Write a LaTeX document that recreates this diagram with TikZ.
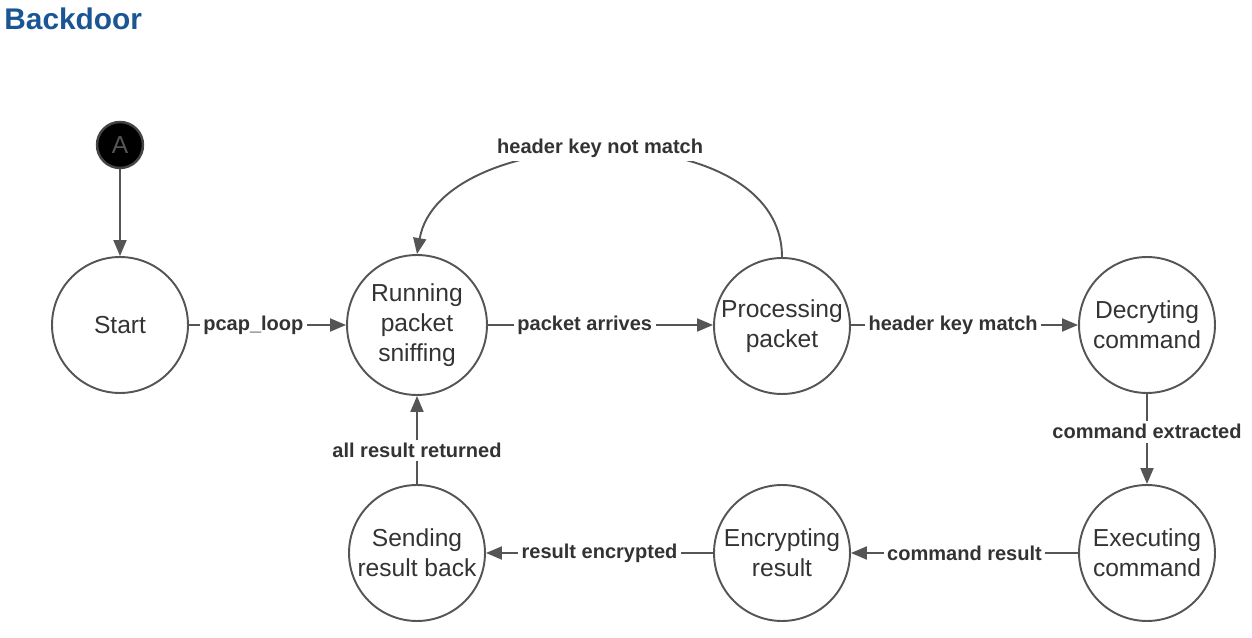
\documentclass[tikz,border=0pt]{standalone}
\usepackage{fontspec}
\setmainfont{Liberation Sans}
\usetikzlibrary{arrows.meta}
\definecolor{linegray}{RGB}{85,85,85}
\definecolor{textgray}{RGB}{51,51,51}
\definecolor{titleblue}{RGB}{27,86,148}
\tikzset{
  state/.style={circle, draw=linegray, line width=1.1pt, minimum size=2.72cm, inner sep=0pt,
    align=center, text=textgray, font=\fontsize{14}{17}\selectfont},
  trans/.style={draw=linegray, line width=1.1pt, -{Triangle[length=0.32cm,width=0.26cm]}},
  lbl/.style={fill=white, inner sep=2pt, text=textgray, font=\bfseries\fontsize{11.4}{13}\selectfont},
}
\begin{document}
\begin{tikzpicture}[x=0.02cm, y=-0.02cm]
    \useasboundingbox (0,0) rectangle (1252,638);

    \node[anchor=base west, inner sep=0pt, text=titleblue, font=\bfseries\fontsize{17}{20}\selectfont] (title) at (4,30) {Backdoor};

    \node[circle, fill=black, draw=linegray!80!black, line width=1.4pt, minimum size=0.92cm, inner sep=0pt,
      text=linegray, font=\fontsize{14}{16}\selectfont] (init) at (120,145) {A};

    \node[state] (start) at (120,325) {Start};
    \node[state, minimum size=2.8cm] (sniff) at (417,325) {Running\\packet\\sniffing};
    \node[state] (proc) at (782,326) {Processing\\packet};
    \node[state] (decr) at (1147,325) {Decryting\\command};
    \node[state] (exec) at (1147,553) {Executing\\command};
    \node[state] (encr) at (782,553) {Encrypting\\result};
    \node[state] (send) at (417,553) {Sending\\result back};

    \draw[trans] (init) -- (start);
    \draw[trans] (start) -- node[lbl, pos=0.41] {pcap\_loop} (sniff);
    \draw[trans] (sniff.east) -- node[lbl, pos=0.43] {packet arrives} (proc.west |- sniff.east);
    \draw[trans] (proc.north) .. controls (782,112) and (440,122) .. node[lbl, pos=0.5, xshift=-0.16cm, yshift=0.06cm] {header key not match} (sniff.north);
    \draw[trans] (proc.east |- decr.west) -- node[lbl, pos=0.45] {header key match} (decr.west);
    \draw[trans] (decr) -- node[lbl, pos=0.42] {command extracted} (exec);
    \draw[trans] (exec) -- node[lbl, pos=0.5] {command result} (encr);
    \draw[trans] (encr) -- node[lbl, pos=0.5] {result encrypted} (send);
    \draw[trans] (send) -- node[lbl, pos=0.38] {all result returned} (sniff);

\end{tikzpicture}
\end{document}
